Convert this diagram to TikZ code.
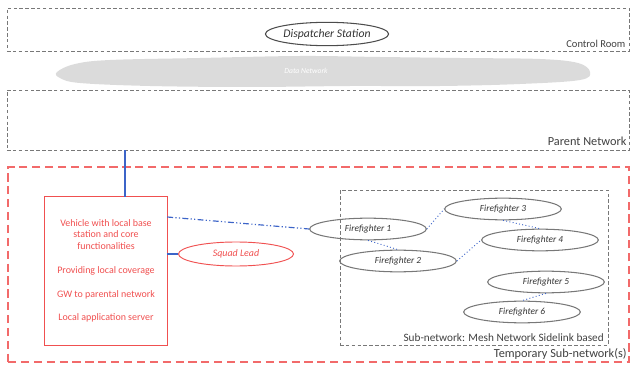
\documentclass[tikz,border=0pt]{standalone}
\usepackage{fontspec}
\setmainfont{Carlito}
\usetikzlibrary{shapes.geometric}

\definecolor{boxgray}{RGB}{120,120,120}
\definecolor{netred}{RGB}{240,80,80}
\definecolor{linkblue}{RGB}{60,100,200}

\tikzset{
	areabox/.style={draw=boxgray, dash pattern=on 3pt off 2pt, line width=0.8pt, inner sep=0pt},
	tempbox/.style={draw=netred!85, dash pattern=on 7pt off 4pt, line width=1.1pt, inner sep=0pt},
	ffnode/.style={ellipse, draw=boxgray, line width=0.9pt, inner sep=0pt, minimum width=3.5cm, minimum height=0.65cm, font=\fontsize{8}{9}\selectfont\itshape, text=black!80},
	mesh/.style={linkblue, dotted, line width=0.8pt},
	arealabel/.style={font=\fontsize{10.5}{12}\selectfont, text=black!75, inner sep=1pt},
}

\begin{document}
\begin{tikzpicture}[x=0.03cm, y=-0.03cm]
		\useasboundingbox (0,0) rectangle (631,367);
		
		% control room on top
		\node[areabox, minimum width=18.66cm, minimum height=1.29cm] (ctrl) at (318,29.5) {};
		\node[arealabel, anchor=south east, font=\fontsize{9}{11}\selectfont] (ctrllabel) at ([xshift=-0.08cm, yshift=0.08cm]ctrl.south east) {Control Room};
		\node[ellipse, draw=black!70, line width=0.9pt, minimum width=3.65cm, minimum height=0.7cm, inner sep=0pt, font=\fontsize{10}{12}\selectfont\itshape, text=black!80] (dispatch) at (327,34) {Dispatcher Station};
		
		% data network cloud
		\fill[gray!28] plot[smooth cycle, tension=0.6] coordinates {(57,72) (75,64) (110,60) (200,58) (300,56) (380,57) (460,58) (540,59) (578,63) (590,72) (580,80) (520,84) (440,86) (350,86) (250,87) (150,86) (80,83) (60,78)};
		\node[font=\fontsize{6.5}{7}\selectfont\itshape, text=white] (cloud) at (306,71) {Data Network};
		
		% parent network
		\node[areabox, minimum width=18.66cm, minimum height=1.8cm] (parent) at (318,120) {};
		\node[arealabel, anchor=south east] (parentlabel) at ([xshift=-0.05cm, yshift=0.1cm]parent.south east) {Parent Network};
		
		% temporary sub-network
		\node[tempbox, minimum width=18.63cm, minimum height=5.85cm] (temp) at (318.5,264.5) {};
		\node[arealabel, anchor=south east] (templabel) at ([xshift=-0.05cm, yshift=0.06cm]temp.south east) {Temporary Sub-network(s)};
		
		\node[text=netred, minimum width=3.66cm, minimum height=4.44cm, inner sep=0pt, align=center, font=\fontsize{8.5}{9.8}\selectfont] (vehicle) at (106,271) {Vehicle with local base\\station and core\\functionalities\\[10.5pt]Providing local coverage\\[10.5pt]GW to parental network\\[10.5pt]Local application server};
		\draw[netred, line width=0.8pt] (vehicle.north west) rectangle (vehicle.south east);
		\node[ellipse, color=netred, draw, line width=0.8pt, minimum width=3.45cm, minimum height=0.72cm, inner sep=0pt, font=\fontsize{8.5}{10}\selectfont\itshape] (squad) at (236,254) {Squad Lead};
		
		% mesh sub-network
		\node[areabox, minimum width=8.04cm, minimum height=4.65cm] (mesh) at (474,267.5) {};
		\node[arealabel, anchor=south east, font=\fontsize{9.6}{11}\selectfont] (meshlabel) at ([xshift=-0.1cm, yshift=0.06cm]mesh.south east) {Sub-network: Mesh Network Sidelink based};
		
		\node[ffnode] (ff1) at (368,229) {Firefighter 1};
		\node[ffnode] (ff2) at (398,261) {Firefighter 2};
		\node[ffnode] (ff3) at (503,209) {Firefighter 3};
		\node[ffnode] (ff4) at (540,240) {Firefighter 4};
		\node[ffnode] (ff5) at (546,282) {Firefighter 5};
		\node[ffnode] (ff6) at (522,312) {Firefighter 6};
		
		% links
		\coordinate (uplink) at ([xshift=0.57cm]vehicle.north);
		\coordinate (sidelink) at ([yshift=1.62cm]vehicle.east);
		\draw[linkblue, line width=1pt] (uplink) -- (uplink |- parent.south);
		\draw[linkblue, line width=1pt] (vehicle.east |- squad.west) -- (squad.west);
		\draw[linkblue, line width=1pt, dash pattern=on 5pt off 2pt on 1pt off 2pt on 1pt off 2pt] (sidelink) -- (ff1.west);
		
		\draw[mesh] (ff1.east) -- (ff3.west);
		\draw[mesh] (ff1.south) -- (ff2.north);
		\draw[mesh] (ff3.south) -- (ff4.north);
		\draw[mesh] (ff2.east) -- (ff4.west);
		\draw[mesh] (ff5.south) -- (ff6.north);
		\end{tikzpicture}
\end{document}
